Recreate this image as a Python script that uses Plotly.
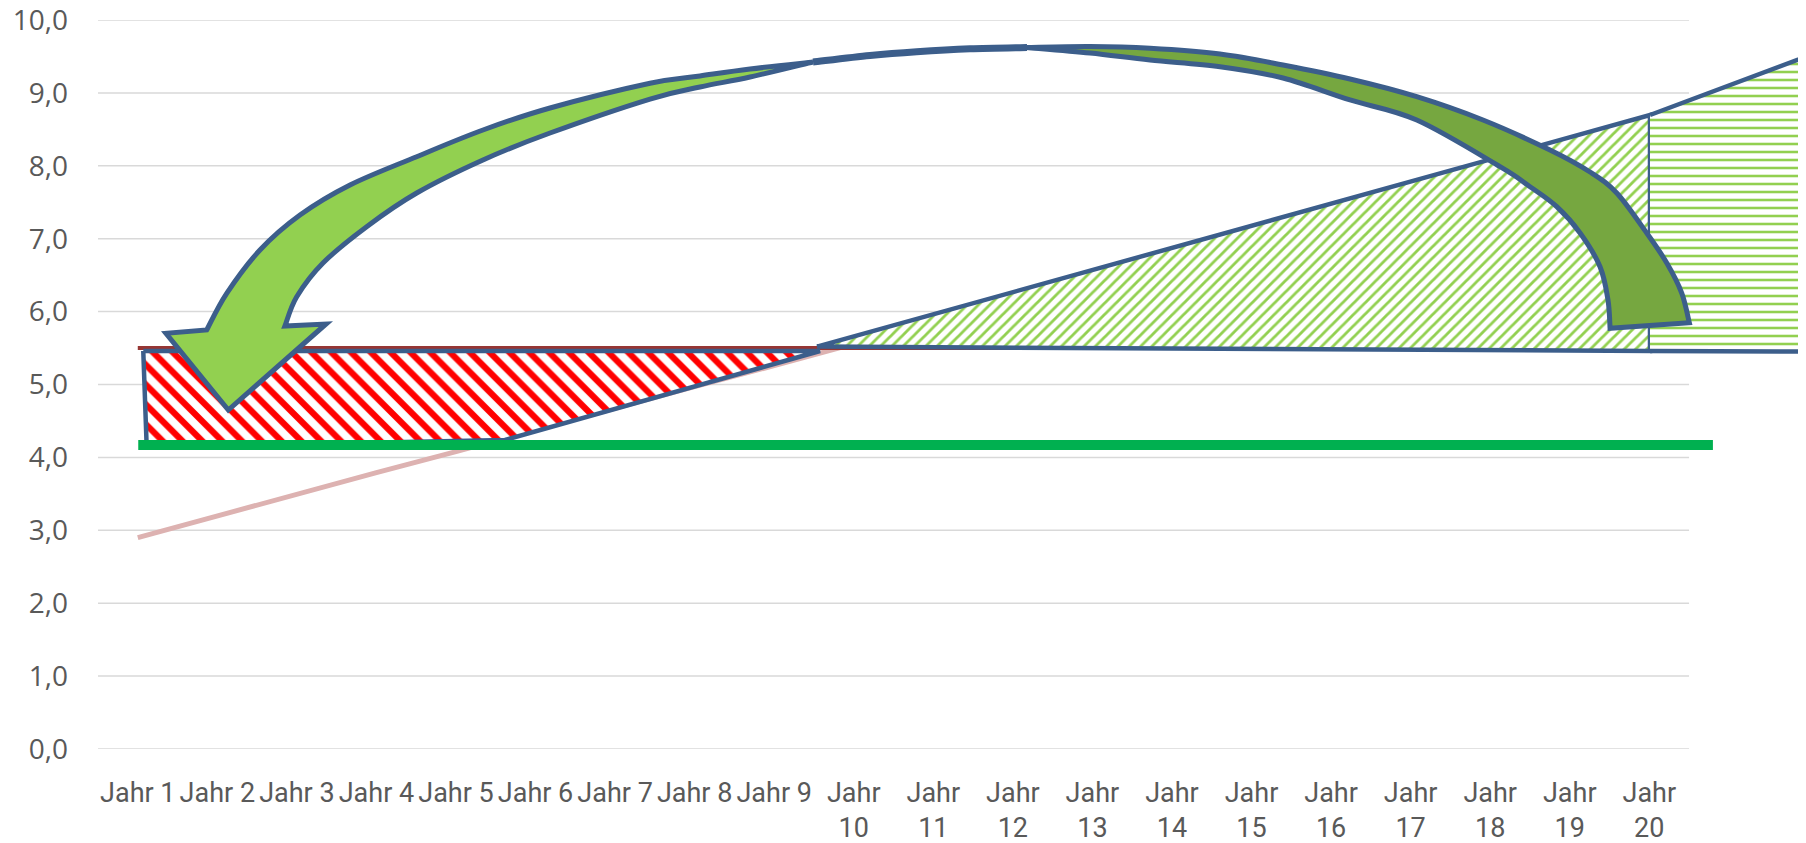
import plotly.graph_objects as go

# ---------------- data ----------------
categories = ["Jahr 1", "Jahr 2", "Jahr 3", "Jahr 4", "Jahr 5", "Jahr 6", "Jahr 7",
              "Jahr 8", "Jahr 9", "Jahr 10", "Jahr 11", "Jahr 12", "Jahr 13", "Jahr 14",
              "Jahr 15", "Jahr 16", "Jahr 17", "Jahr 18", "Jahr 19", "Jahr 20"]
x_tick_labels = ["Jahr 1", "Jahr 2", "Jahr 3", "Jahr 4", "Jahr 5", "Jahr 6", "Jahr 7",
                 "Jahr 8", "Jahr 9", "Jahr<br>10", "Jahr<br>11", "Jahr<br>12", "Jahr<br>13",
                 "Jahr<br>14", "Jahr<br>15", "Jahr<br>16", "Jahr<br>17", "Jahr<br>18",
                 "Jahr<br>19", "Jahr<br>20"]
x_pos = [1, 2, 3, 4, 5, 6, 7, 8, 9, 10, 11, 12, 13, 14, 15, 16, 17, 18, 19, 20]
y_tick_values = [0, 1, 2, 3, 4, 5, 6, 7, 8, 9, 10]
y_tick_labels = ["0,0", "1,0", "2,0", "3,0", "4,0", "5,0", "6,0", "7,0", "8,0", "9,0", "10,0"]

# rising line (light red)
rising = [2.90, 3.20, 3.49, 3.79, 4.08, 4.38, 4.67, 4.97, 5.26, 5.56,
          5.85, 6.15, 6.44, 6.74, 7.03, 7.33, 7.62, 7.92, 8.21, 8.51]
# constant line (dark red)
constant = [5.5] * 20

# green threshold line
green_level_x = [1.006, 20.80]
green_level_y = [4.17, 4.17]

# red hatched region
red_region_x = [1.069, 9.576, 5.616, 1.112, 1.069]
red_region_y = [5.46, 5.46, 4.239, 4.143, 5.46]

# green diagonal-hatched triangle
green_tri_x = [9.538, 20.009, 20.009, 9.538]
green_tri_y = [5.52, 8.697, 5.46, 5.52]

# green horizontal-hatched region (continues beyond the plot)
green_ext_x = [20.009, 22.10, 22.10, 20.009]
green_ext_y = [8.697, 9.55, 5.45, 5.46]

# curved arrow – front (light) band: outer edge, inner edge, arrow head
arrow_front_outer_x = [1.866, 2.118, 2.536, 3.039, 3.668, 4.506, 5.339, 6.182, 7.439, 8.067, 8.696, 9.488]
arrow_front_outer_y = [5.748, 6.251, 6.845, 7.325, 7.737, 8.125, 8.491, 8.793, 9.132, 9.232, 9.328, 9.424]
arrow_front_inner_x = [9.488, 8.696, 8.067, 7.439, 6.182, 5.339, 4.506, 3.877, 3.328, 2.998, 2.850]
arrow_front_inner_y = [9.424, 9.218, 9.081, 8.916, 8.450, 8.080, 7.627, 7.165, 6.667, 6.204, 5.802]
arrow_head_x = [2.850, 3.366, 2.138, 1.354, 1.866]
arrow_head_y = [5.802, 5.830, 4.650, 5.702, 5.748]
# curved arrow – top connecting stroke
arrow_top_x = [9.488, 10.204, 10.791, 11.461, 12.178]
arrow_top_y = [9.424, 9.513, 9.565, 9.605, 9.623]
# curved arrow – back (dark) band: outer edge and inner edge
arrow_back_outer_x = [12.178, 12.970, 13.724, 14.604, 15.396, 16.238, 17.077, 17.910, 18.752, 19.255,
                      19.591, 19.968, 20.220, 20.408, 20.503]
arrow_back_outer_y = [9.623, 9.636, 9.612, 9.534, 9.383, 9.191, 8.948, 8.628, 8.217, 7.915,
                      7.627, 7.078, 6.667, 6.255, 5.848]
arrow_back_inner_x = [19.507, 19.481, 19.381, 19.130, 18.837, 18.501, 18.124, 17.077, 16.238,
                      15.396, 14.604, 13.724, 12.970, 12.178]
arrow_back_inner_y = [5.771, 6.159, 6.616, 7.078, 7.439, 7.713, 7.988, 8.628, 8.903,
                      9.204, 9.360, 9.451, 9.547, 9.623]

# ---------------- styles ----------------
OUTLINE = "#3C5E8B"
GRID = "#D9D9D9"
TEXT = "#595959"
PAGE_OFFSET = 8  # default body margin of the page


def smooth_segment(xs, ys):
    """SVG cubic-bezier commands running smoothly through the given points."""
    pts = list(zip(xs, ys))
    n = len(pts)
    cmds = []
    for i in range(n - 1):
        p0 = pts[i - 1] if i > 0 else pts[i]
        p1 = pts[i]
        p2 = pts[i + 1]
        p3 = pts[i + 2] if i + 2 < n else pts[i + 1]
        c1 = (p1[0] + (p2[0] - p0[0]) / 6, p1[1] + (p2[1] - p0[1]) / 6)
        c2 = (p2[0] - (p3[0] - p1[0]) / 6, p2[1] - (p3[1] - p1[1]) / 6)
        cmds.append(f"C {c1[0]:.4f},{c1[1]:.4f} {c2[0]:.4f},{c2[1]:.4f} {p2[0]:.4f},{p2[1]:.4f}")
    return " ".join(cmds)


fig = go.Figure()

# horizontal gridlines, limited to the category area
for yv in y_tick_values:
    fig.add_shape(type="line", xref="x", yref="y", x0=0.5, x1=20.5, y0=yv, y1=yv,
                  line=dict(color=GRID, width=1.5), layer="below")

fig.add_trace(go.Scatter(x=x_pos, y=rising, mode="lines",
                         line=dict(color="#DDB2B1", width=5)))
fig.add_trace(go.Scatter(x=x_pos, y=constant, mode="lines",
                         line=dict(color="#963634", width=4)))

fig.add_trace(go.Scatter(x=red_region_x, y=red_region_y, mode="lines", fill="toself",
                         fillcolor="white",
                         fillpattern=dict(shape="\\", fgcolor="#FF0000", bgcolor="white",
                                          fgopacity=1, size=14, solidity=0.45),
                         line=dict(color=OUTLINE, width=4.5)))
fig.add_trace(go.Scatter(x=green_tri_x, y=green_tri_y, mode="lines", fill="toself",
                         fillcolor="white",
                         fillpattern=dict(shape="/", fgcolor="#92D050", bgcolor="white",
                                          fgopacity=1, size=8, solidity=0.35),
                         line=dict(color=OUTLINE, width=4.5)))
fig.add_trace(go.Scatter(x=green_ext_x, y=green_ext_y, mode="lines", fill="toself",
                         fillcolor="white",
                         fillpattern=dict(shape="-", fgcolor="#92D050", bgcolor="white",
                                          fgopacity=1, size=8, solidity=0.32),
                         line=dict(color=OUTLINE, width=4.5)))

fig.add_trace(go.Scatter(x=green_level_x, y=green_level_y, mode="lines",
                         line=dict(color="#00B050", width=10)))

# curved arrow drawn as smooth paths on the data axes
front_path = (f"M {arrow_front_outer_x[0]},{arrow_front_outer_y[0]} "
              + smooth_segment(arrow_front_outer_x, arrow_front_outer_y) + " "
              + smooth_segment(arrow_front_inner_x, arrow_front_inner_y) + " "
              + " ".join(f"L {hx},{hy}" for hx, hy in zip(arrow_head_x[1:], arrow_head_y[1:]))
              + " Z")
back_path = (f"M {arrow_back_outer_x[0]},{arrow_back_outer_y[0]} "
             + smooth_segment(arrow_back_outer_x, arrow_back_outer_y) + " "
             + f"L {arrow_back_inner_x[0]},{arrow_back_inner_y[0]} "
             + smooth_segment(arrow_back_inner_x, arrow_back_inner_y) + " Z")
top_path = (f"M {arrow_top_x[0]},{arrow_top_y[0]} "
            + smooth_segment(arrow_top_x, arrow_top_y))

fig.add_shape(type="path", xref="x", yref="y", path=front_path, fillcolor="#92D050",
              line=dict(color=OUTLINE, width=5), layer="above")
fig.add_shape(type="path", xref="x", yref="y", path=back_path, fillcolor="#76A740",
              line=dict(color=OUTLINE, width=5), layer="above")
fig.add_shape(type="path", xref="x", yref="y", path=top_path,
              line=dict(color=OUTLINE, width=7), layer="above")

fig.update_layout(
    width=1806 - PAGE_OFFSET, height=843 - PAGE_OFFSET,
    margin=dict(l=98 - PAGE_OFFSET, r=0, t=20 - PAGE_OFFSET, b=94, autoexpand=False),
    paper_bgcolor="white", plot_bgcolor="white",
    showlegend=False,
    hovermode=False,
    xaxis=dict(range=[0.5, 21.97], showgrid=False, zeroline=False, showline=False,
               automargin=False,
               tickmode="array", tickvals=x_pos, ticktext=x_tick_labels, ticks="",
               tickangle=0, ticklabelstandoff=25, ticklabeloverflow="allow",
               tickfont=dict(family="Roboto", size=27, color=TEXT)),
    yaxis=dict(range=[0, 10.0002], showgrid=False, zeroline=False, showline=False,
               automargin=False,
               tickmode="array", tickvals=y_tick_values, ticktext=y_tick_labels, ticks="",
               ticklabelstandoff=29, ticklabeloverflow="allow",
               tickfont=dict(family="Open Sans", size=28, color=TEXT)),
)

fig.write_html("out.html")
